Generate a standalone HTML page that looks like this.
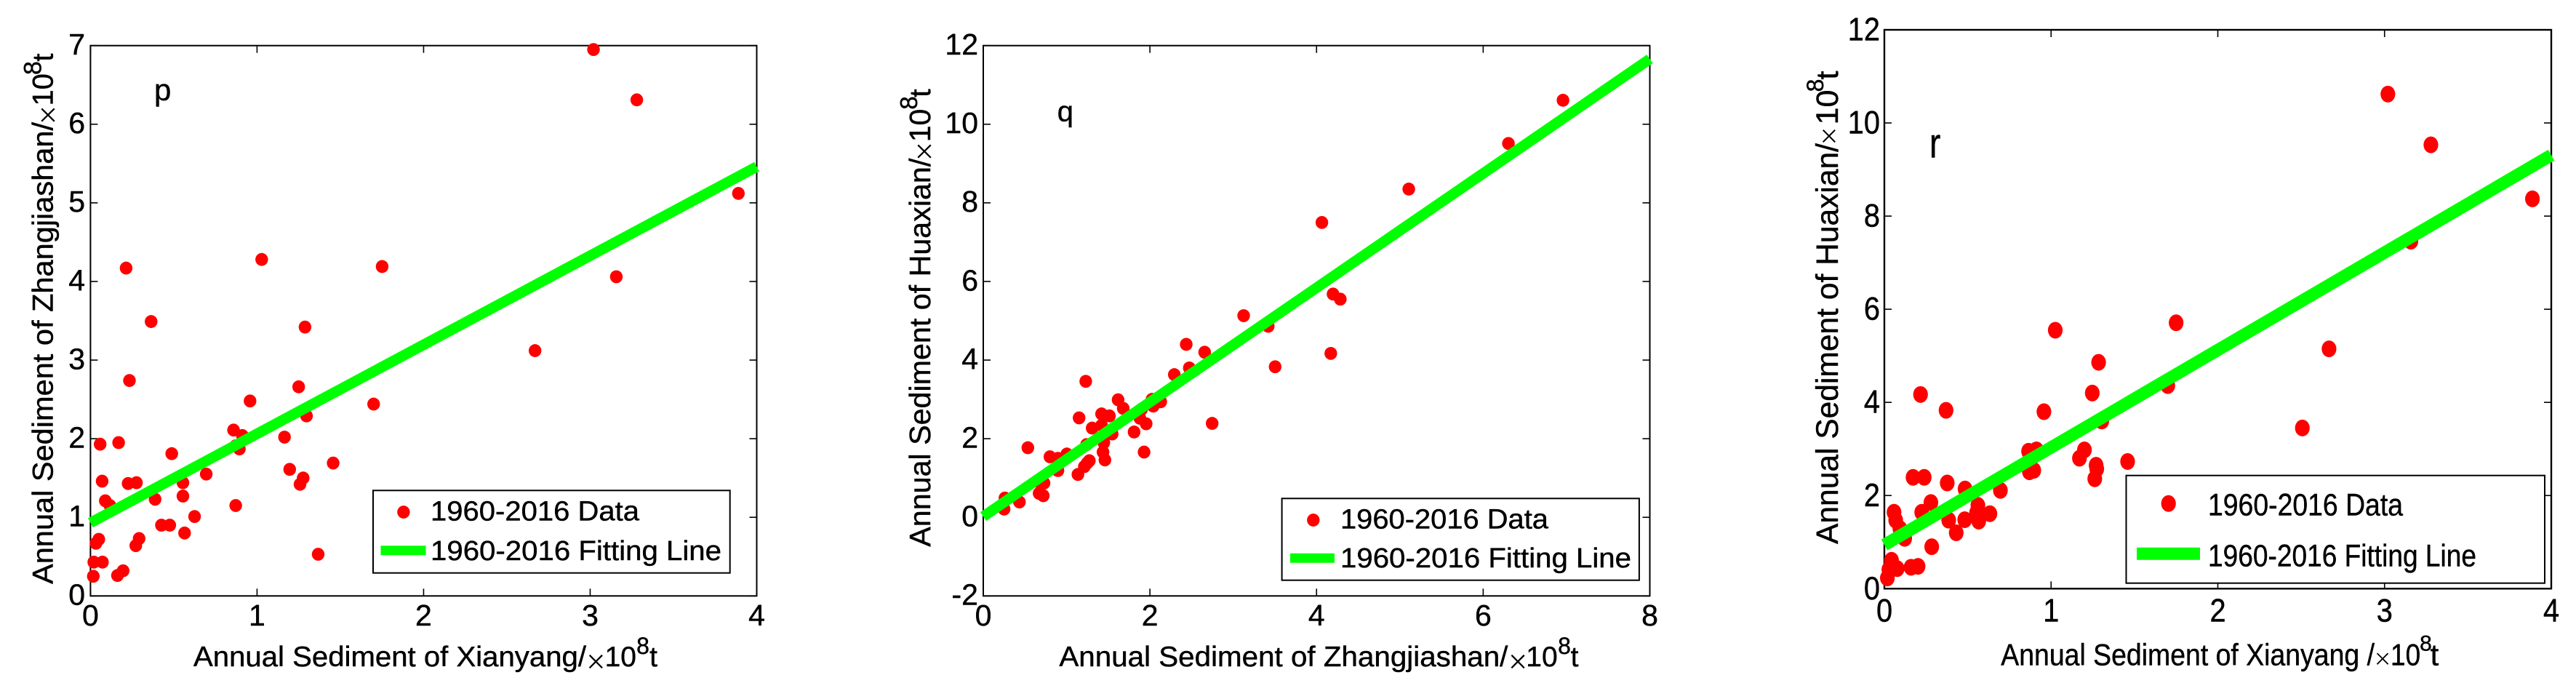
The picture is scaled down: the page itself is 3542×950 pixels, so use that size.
<!DOCTYPE html>
<html>
<head>
<meta charset="utf-8">
<title>Annual sediment scatter charts</title>
<style>
html,body{margin:0;padding:0;background:#fff;width:3542px;height:950px;overflow:hidden}
svg{display:block}
text{font-family:"Liberation Sans",Arial,sans-serif;fill:#000;stroke:#000;stroke-width:.45px}
text.times{stroke:#fff;stroke-width:1px}
</style>
</head>
<body>
<svg id="figure" xmlns="http://www.w3.org/2000/svg" width="3542" height="950" viewBox="0 0 3542 950">
<rect x="0" y="0" width="3542" height="950" fill="#fff"/>
<g id="chart-p"></g>
<g id="chart-q"></g>
<g id="chart-r"></g>

<!-- Chart p static text -->
<g>
<text x="212" y="138" font-size="42">p</text>
<g font-size="39">
<text x="266" y="916" textLength="540" lengthAdjust="spacingAndGlyphs">Annual Sediment of Xianyang/</text>
<text class="times" x="819.3" y="925" font-size="46" text-anchor="middle">×</text>
<text x="853.3" y="916" text-anchor="middle">10</text>
<text x="884" y="899" font-size="32" text-anchor="middle">8</text>
<text x="898.5" y="916" text-anchor="middle">t</text>
</g>
<g font-size="40">
<text transform="translate(72.7,803) rotate(-90)" textLength="635" lengthAdjust="spacingAndGlyphs">Annual Sediment of Zhangjiashan/</text>
<text class="times" transform="translate(81.6,158) rotate(-90)" font-size="46" text-anchor="middle">×</text>
<text transform="translate(72.7,123.3) rotate(-90)" text-anchor="middle">10</text>
<text transform="translate(56.6,93.5) rotate(-90)" font-size="34" text-anchor="middle">8</text>
<text transform="translate(72.7,79) rotate(-90)" text-anchor="middle">t</text>
</g>
<g>
<rect x="513" y="674.3" width="490.7" height="113.4" fill="#fff" stroke="#000" stroke-width="2"/>
<ellipse cx="554.9" cy="704" rx="8.7" ry="8.9" fill="#ff0000"/>
<line x1="523.5" y1="756.7" x2="585.5" y2="756.7" stroke="#00ff00" stroke-width="13"/>
<text x="592" y="715.7" font-size="38" textLength="287" lengthAdjust="spacingAndGlyphs">1960-2016 Data</text>
<text x="592" y="770" font-size="38" textLength="400" lengthAdjust="spacingAndGlyphs">1960-2016 Fitting Line</text>
</g>
</g>

<!-- Chart q static text -->
<g>
<text x="1453.7" y="166.7" font-size="40">q</text>
<g font-size="39">
<text x="1456.4" y="916" textLength="617" lengthAdjust="spacingAndGlyphs">Annual Sediment of Zhangjiashan/</text>
<text class="times" x="2087" y="925" font-size="46" text-anchor="middle">×</text>
<text x="2120" y="916" text-anchor="middle">10</text>
<text x="2151" y="899" font-size="32" text-anchor="middle">8</text>
<text x="2165" y="916" text-anchor="middle">t</text>
</g>
<g font-size="41">
<text transform="translate(1279.2,751.7) rotate(-90)" textLength="534" lengthAdjust="spacingAndGlyphs">Annual Sediment of Huaxian/</text>
<text class="times" transform="translate(1286.7,208) rotate(-90)" font-size="46" text-anchor="middle">×</text>
<text transform="translate(1279.2,172.5) rotate(-90)" text-anchor="middle">10</text>
<text transform="translate(1261,141.5) rotate(-90)" font-size="33" text-anchor="middle">8</text>
<text transform="translate(1279.2,128) rotate(-90)" text-anchor="middle">t</text>
</g>
<g>
<rect x="1762.6" y="685.3" width="491.3" height="112.4" fill="#fff" stroke="#000" stroke-width="2"/>
<ellipse cx="1805.8" cy="715" rx="8.7" ry="8.9" fill="#ff0000"/>
<line x1="1774" y1="767.3" x2="1835" y2="767.3" stroke="#00ff00" stroke-width="13"/>
<text x="1843" y="726.7" font-size="38" textLength="286" lengthAdjust="spacingAndGlyphs">1960-2016 Data</text>
<text x="1843" y="780" font-size="38" textLength="400" lengthAdjust="spacingAndGlyphs">1960-2016 Fitting Line</text>
</g>
</g>

<!-- Chart r static text -->
<g>
<text transform="translate(2653,216.7) scale(1,1.25)" font-size="46">r</text>
<g font-size="42">
<text x="2751.3" y="914.3" textLength="513.7" lengthAdjust="spacingAndGlyphs">Annual Sediment of Xianyang /</text>
<text class="times" x="3276" y="919" font-size="40" text-anchor="middle">×</text>
<text transform="translate(3307.6,914.3) scale(0.88,1)" text-anchor="middle">10</text>
<text x="3335.5" y="894.3" font-size="30" text-anchor="middle">8</text>
<text x="3347.5" y="914.3" text-anchor="middle">t</text>
</g>
<g font-size="43">
<text transform="translate(2527,748) rotate(-90)" textLength="551" lengthAdjust="spacingAndGlyphs">Annual Sediment of Huaxian/</text>
<text class="times" transform="translate(2529.3,187) rotate(-90)" font-size="44" text-anchor="middle">×</text>
<text transform="translate(2527,147.5) rotate(-90)" text-anchor="middle">10</text>
<text transform="translate(2507,117.5) rotate(-90)" font-size="32" text-anchor="middle">8</text>
<text transform="translate(2527,103.5) rotate(-90)" text-anchor="middle">t</text>
</g>
<g>
<rect x="2923.5" y="653.7" width="575.5" height="148" fill="#fff" stroke="#000" stroke-width="2"/>
<ellipse cx="2981.7" cy="692.3" rx="10.1" ry="11.5" fill="#ff0000"/>
<line x1="2938" y1="761.3" x2="3025" y2="761.3" stroke="#00ff00" stroke-width="17"/>
<text x="3036" y="708.3" font-size="43" textLength="268" lengthAdjust="spacingAndGlyphs">1960-2016 Data</text>
<text x="3036" y="778.3" font-size="43" textLength="369" lengthAdjust="spacingAndGlyphs">1960-2016 Fitting Line</text>
</g>
</g>
</svg>

<script>
// Chart p: Zhangjiashan vs Xianyang
const pXTicks = [0, 1, 2, 3, 4];
const pYTicks = [0, 1, 2, 3, 4, 5, 6, 7];
const pX = [0.214,1.028,1.751,0.364,1.288,0.234,1.25,0.958,1.7,1.297,0.859,0.912,1.165,0.058,0.169,0.872,0.894,0.488,1.457,1.196,0.695,1.277,1.258,0.07,0.226,0.276,0.555,0.555,0.089,0.388,0.117,0.872,0.625,0.426,0.476,0.565,0.292,0.272,0.05,0.033,0.02,0.072,0.196,0.162,0.017,1.367,3.02,3.28,3.89,3.157,2.669];
const pY = [4.17,4.28,4.19,3.49,3.42,2.74,2.66,2.48,2.44,2.29,2.11,2.04,2.02,1.93,1.95,1.91,1.87,1.81,1.69,1.61,1.55,1.5,1.42,1.46,1.43,1.44,1.44,1.27,1.21,1.23,1.15,1.15,1.01,0.9,0.9,0.8,0.73,0.64,0.72,0.67,0.43,0.43,0.32,0.26,0.25,0.53,6.95,6.31,5.12,4.06,3.12];
const pFitX = [0, 4];
const pFitY = [0.93, 5.46];

// Chart q: Huaxian vs Zhangjiashan
const qXTicks = [0, 2, 4, 6, 8];
const qYTicks = [-2, 0, 2, 4, 6, 8, 10, 12];
const qX = [3.125,3.42,2.436,2.657,2.473,2.293,1.23,3.503,1.618,1.68,2.025,2.13,2.04,1.9,1.42,1.514,1.15,1.88,1.955,2.747,1.307,1.42,1.81,1.547,1.447,1.24,0.535,1.437,1.93,1.003,0.8,0.896,1.46,1.273,1.247,1.213,0.896,1.136,0.645,0.729,0.67,0.72,0.434,0.26,0.25,4.064,4.198,4.285,5.107,6.303,6.958,4.171];
const qY = [5.13,4.86,4.4,4.2,3.8,3.63,3.46,3.83,2.99,2.77,3.0,2.94,2.83,2.75,2.63,2.58,2.53,2.52,2.38,2.39,2.27,2.34,2.17,2.12,1.9,1.85,1.77,1.66,1.66,1.61,1.54,1.5,1.46,1.44,1.38,1.29,1.19,1.09,0.92,0.87,0.61,0.55,0.39,0.49,0.21,7.5,5.68,5.55,8.35,9.51,10.61,4.17];
const qFitX = [0, 8];
const qFitY = [0.02, 11.66];

// Chart r: Huaxian vs Xianyang
const rXTicks = [0, 1, 2, 3, 4];
const rYTicks = [0, 2, 4, 6, 8, 10, 12];
const rX = [1.025,1.75,1.285,0.217,1.247,0.37,0.957,1.304,1.7,0.912,0.865,1.2,1.17,1.27,1.274,1.459,0.896,0.87,1.262,0.172,0.239,0.377,0.484,0.696,0.279,0.224,0.058,0.068,0.093,0.122,0.561,0.553,0.633,0.482,0.566,0.386,0.431,0.284,0.043,0.077,0.027,0.202,0.16,0.018,0.05,3.02,3.278,3.887,3.158,2.667,2.507];
const rY = [5.55,5.71,4.86,4.17,4.2,3.83,3.8,3.6,4.36,2.98,2.95,2.98,2.8,2.65,2.57,2.73,2.54,2.51,2.36,2.39,2.39,2.27,2.14,2.11,1.85,1.64,1.64,1.47,1.29,1.08,1.79,1.63,1.61,1.48,1.45,1.47,1.2,0.9,0.61,0.43,0.41,0.48,0.46,0.23,0.5,10.62,9.53,8.37,7.46,5.15,3.45];
const rFitX = [0, 4];
const rFitY = [0.94, 9.31];

const NS = 'http://www.w3.org/2000/svg';
function axisScale(d0, d1, r0, r1) {
  return function (v) { return r0 + (v - d0) * (r1 - r0) / (d1 - d0); };
}
function shape(parent, tag, props) {
  const el = document.createElementNS(NS, tag);
  for (const k in props) el.setAttribute(k, props[k]);
  parent.appendChild(el);
  return el;
}
function drawChart(id, box, xTicks, yTicks, xs, ys, fitX, fitY, opt) {
  const g = document.getElementById(id);
  const sx = axisScale(xTicks[0], xTicks[xTicks.length - 1], box.left, box.right);
  const sy = axisScale(yTicks[0], yTicks[yTicks.length - 1], box.bottom, box.top);

  const frame = shape(g, 'rect', {x: box.left, y: box.top, width: box.right - box.left, height: box.bottom - box.top, fill: 'none', stroke: '#000', 'stroke-width': opt.frame});
  
  

  xTicks.forEach(function (t) {
    const x = sx(t);
    const b = shape(g, 'line', {x1: x, x2: x, y1: box.bottom, y2: box.bottom - 10, stroke: '#000', 'stroke-width': 1.6});
    
    
    const u = shape(g, 'line', {x1: x, x2: x, y1: box.top, y2: box.top + 10, stroke: '#000', 'stroke-width': 1.6});
    
    
    const lab = shape(g, 'text', {transform: 'translate(' + x + ',' + opt.xLabelY + ') scale(' + opt.sx + ',' + opt.sy + ')', 'font-size': 41, 'text-anchor': 'middle'});
    lab.textContent = String(t);
    
    
  });

  yTicks.forEach(function (t) {
    const y = sy(t);
    const l = shape(g, 'line', {x1: box.left, x2: box.left + 10, y1: y, y2: y, stroke: '#000', 'stroke-width': 1.6});
    
    
    const r = shape(g, 'line', {x1: box.right, x2: box.right - 10, y1: y, y2: y, stroke: '#000', 'stroke-width': 1.6});
    
    
    const lab = shape(g, 'text', {transform: 'translate(' + opt.yLabelX + ',' + (y + opt.yLabelDy) + ') scale(' + opt.sx + ',' + opt.sy + ')', 'font-size': 41, 'text-anchor': 'end'});
    lab.textContent = String(t);
    
    
  });

  xs.forEach(function (v, i) {
    const dot = shape(g, 'ellipse', {cx: sx(v), cy: sy(ys[i]), rx: opt.rx, ry: opt.ry, fill: '#ff0000'});
    
    
  });

  const fit = shape(g, 'line', {x1: sx(fitX[0]), y1: sy(fitY[0]), x2: sx(fitX[1]), y2: sy(fitY[1]), stroke: '#00ff00', 'stroke-width': opt.fit});
  
  
}

drawChart('chart-p', {left: 124.4, right: 1040.5, top: 62.7, bottom: 819.3}, pXTicks, pYTicks, pX, pY, pFitX, pFitY,
  {frame: 2, rx: 8.7, ry: 8.9, fit: 14.5, xLabelY: 860, yLabelX: 117, yLabelDy: 12.3, sx: 1, sy: 1});
drawChart('chart-q', {left: 1352, right: 2268.5, top: 62.7, bottom: 819.3}, qXTicks, qYTicks, qX, qY, qFitX, qFitY,
  {frame: 2, rx: 8.7, ry: 8.9, fit: 14.5, xLabelY: 860, yLabelX: 1345, yLabelDy: 12.3, sx: 1, sy: 1});
drawChart('chart-r', {left: 2591, right: 3508, top: 41, bottom: 809.3}, rXTicks, rYTicks, rX, rY, rFitX, rFitY,
  {frame: 2.4, rx: 10.1, ry: 11.5, fit: 17, xLabelY: 854.3, yLabelX: 2585, yLabelDy: 14.5, sx: 0.97, sy: 1.08});
</script>
</body>
</html>
